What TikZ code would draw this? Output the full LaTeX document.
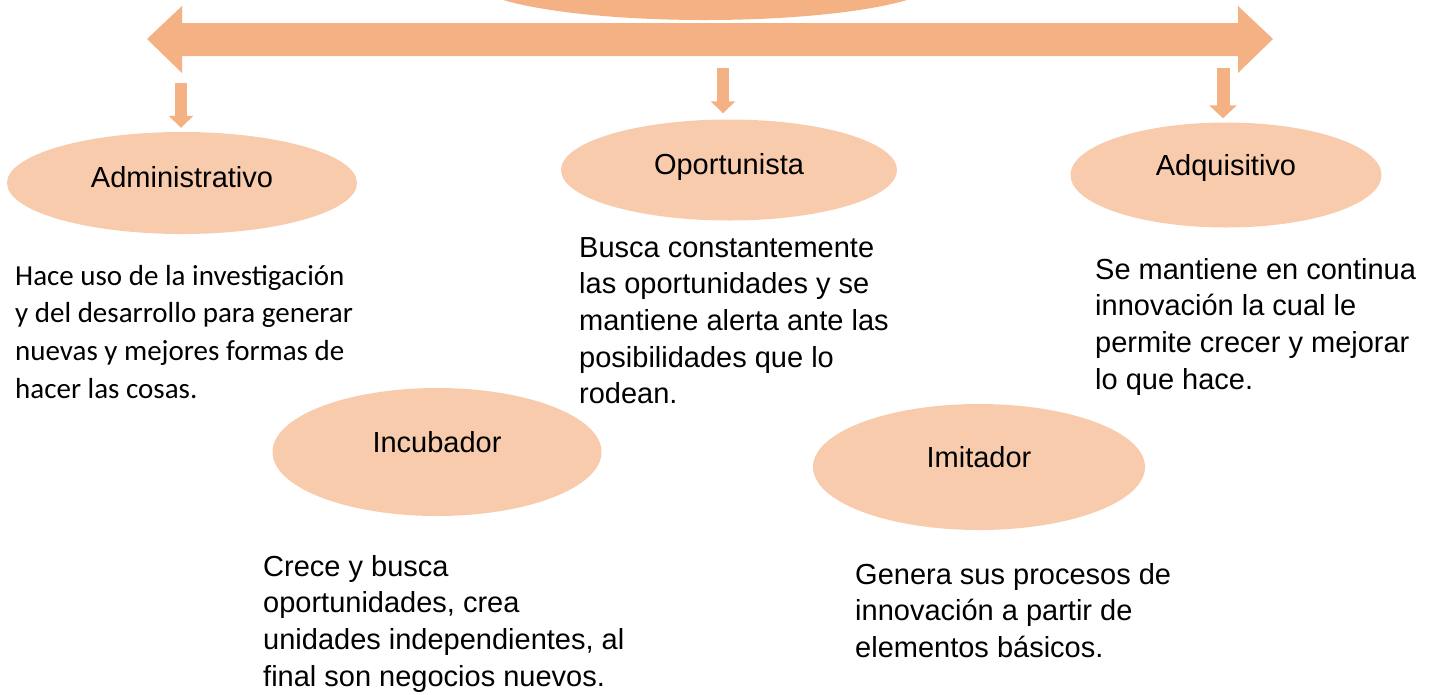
\documentclass[tikz,border=0pt]{standalone}
\usepackage{fontspec}
\setmainfont{Liberation Sans}
\newfontfamily\calibri{Carlito}
\usepackage{tikz}
\usetikzlibrary{arrows.meta}
\usetikzlibrary{calc}
\usetikzlibrary{shapes.geometric}
\definecolor{pfeil}{RGB}{244,177,131}
\definecolor{blasenfarbe}{RGB}{248,203,173}

\begin{document}
\begin{tikzpicture}[x=1pt,y=-1pt,
	blase/.style={ellipse,fill=blasenfarbe,inner sep=0pt,text height=21pt,text depth=21pt,font=\fontsize{29}{37}\selectfont},
	kleinpfeil/.style={pfeil,line width=12pt,-{Triangle[width=24pt,length=12pt]}},
	erklaerung/.style={anchor=north west,inner sep=0pt,align=left,font=\fontsize{29}{36.7}\selectfont}]
	\useasboundingbox (0,0) rectangle (1437,694);
	\clip (0,0) rectangle (1437,694);
	\node[name=T,blase,fill=pfeil,minimum width=466pt,minimum height=80pt] at (705,-20) {};
	\fill[pfeil] (147,39) -- (182,6) -- (182,23) -- (1238,23) -- (1238,6) -- (1273,39)
		-- (1238,73) -- (1238,56) -- (182,56) -- (182,73) -- cycle;
	\node[name=A,blase,text depth=13pt,minimum width=350pt,minimum height=102pt] at (182,183) {Administrativo};
	\node[name=O,blase,text depth=13pt,minimum width=336pt,minimum height=101pt] at (729,170) {Oportunista};
	\node[name=Q,blase,minimum width=311pt,minimum height=105pt] at (1226,175) {Adquisitivo};
	\node[name=I,blase,minimum width=329pt,minimum height=128pt] at (437,452) {Incubador};
	\node[name=M,blase,minimum width=332pt,minimum height=126pt] at (979,467) {Imitador};
	\coordinate (p1) at (181,83);
	\coordinate (p2) at (723,68);
	\coordinate (p3) at (1223,68);
	\draw[kleinpfeil] (p1) -- ($(p1 |- A.north)+(0,-4)$);
	\draw[kleinpfeil] (p2) -- ($(p2 |- O.north)+(0,-6)$);
	\draw[kleinpfeil,line width=13pt,-{Triangle[width=27pt,length=13pt]}] (p3) -- ($(p3 |- Q.north)+(0,-4)$);
	\node[name=TA,erklaerung,font=\calibri\fontsize{29}{37.6}\selectfont] at (15,265) {Hace uso de la investigación\\y del desarrollo para generar\\nuevas y mejores formas de\\hacer las cosas.};
	\node[name=TO,erklaerung] at (579,237) {Busca constantemente\\las oportunidades y se\\mantiene alerta ante las\\posibilidades que lo\\rodean.};
	\node[name=TQ,erklaerung] at (1095,258) {Se mantiene en continua\\innovación la cual le\\permite crecer y mejorar\\lo que hace.};
	\node[name=TI,erklaerung] at (263,555) {Crece y busca\\oportunidades, crea\\unidades independientes, al\\final son negocios nuevos.};
	\node[name=TM,erklaerung] at (855,563) {Genera sus procesos de\\innovación a partir de\\elementos básicos.};
\end{tikzpicture}
\end{document}
